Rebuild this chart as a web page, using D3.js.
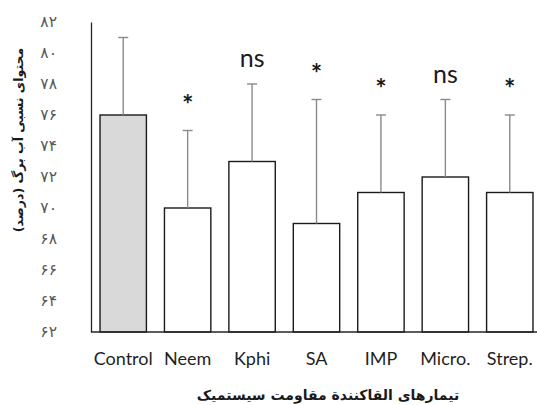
<!DOCTYPE html>
<html>
<head>
<meta charset="utf-8">
<script src="https://cdn.jsdelivr.net/npm/d3@7"></script>
<style>
  body { margin: 0; background: #fff; }
  svg { display: block; }
</style>
</head>
<body>
<div id="chart"></div>
<script>
// treatments and relative water content (%)
const treatments = ['Control', 'Neem', 'Kphi', 'SA', 'IMP', 'Micro.', 'Strep.'];
const rwcValues = [76, 70, 73, 69, 71, 72, 71];
const rwcErrors = [5, 5, 5, 8, 5, 5, 5];
const sigLabels = ['', '*', 'ns', '*', '*', 'ns', '*'];
const yTicks = [62, 64, 66, 68, 70, 72, 74, 76, 78, 80, 82];

const xTitle = 'تیمارهای القاکنندة مقاومت سیستمیک';
const yTitle = 'محتوای نسبی آب برگ (درصد)';

const width = 537;
const height = 405;
const margin = { top: 22, right: 0, bottom: 73, left: 91 };

const faDigits = '۰۱۲۳۴۵۶۷۸۹';
const toFa = n => String(n).replace(/[0-9]/g, d => faDigits[+d]);

const latinFont = 'Lato, "Open Sans", sans-serif';
const faFont = '"DejaVu Sans", sans-serif';

const data = treatments.map((t, i) => ({
  name: t, value: rwcValues[i], err: rwcErrors[i], sig: sigLabels[i]
}));

const svg = d3.select('#chart').append('svg')
  .attr('width', width)
  .attr('height', height);

svg.append('rect').attr('width', width).attr('height', height).attr('fill', '#fff');

const x = d3.scaleBand()
  .domain(treatments)
  .range([margin.left, 542])
  .paddingInner(0.28)
  .paddingOuter(0.14);

const y = d3.scaleLinear()
  .domain([62, 82])
  .range([height - margin.bottom, margin.top]);

// y axis: line + persian tick labels, no tick marks
const yAxis = svg.append('g')
  .attr('transform', `translate(${margin.left},0)`)
  .call(d3.axisLeft(y).tickValues(yTicks).tickSize(0).tickPadding(34).tickFormat(toFa));
yAxis.select('.domain').attr('stroke', '#262626').attr('stroke-width', 1.3);
yAxis.selectAll('text')
  .attr('font-family', faFont)
  .attr('font-size', 15.5)
  .attr('fill', '#595959');

// bars
svg.append('g').selectAll('rect')
  .data(data)
  .join('rect')
    .attr('x', d => x(d.name))
    .attr('y', d => y(d.value))
    .attr('width', x.bandwidth())
    .attr('height', d => y(62) - y(d.value))
    .attr('fill', (d, i) => i === 0 ? '#d9d9d9' : '#fff')
    .attr('stroke', '#1a1a1a')
    .attr('stroke-width', 1.4);

// upper error bars
const eb = svg.append('g').selectAll('g')
  .data(data)
  .join('g')
    .attr('transform', d => `translate(${x(d.name) + x.bandwidth() / 2},0)`);
eb.append('line')
  .attr('y1', d => y(d.value))
  .attr('y2', d => y(d.value + d.err))
  .attr('stroke', '#8a8a8a')
  .attr('stroke-width', 1.4);
eb.append('line')
  .attr('x1', -5).attr('x2', 5)
  .attr('y1', d => y(d.value + d.err))
  .attr('y2', d => y(d.value + d.err))
  .attr('stroke', '#8a8a8a')
  .attr('stroke-width', 1.4);

// significance labels
eb.append('text')
  .attr('y', d => y(d.value + d.err) - 17)
  .attr('text-anchor', 'middle')
  .attr('font-family', latinFont)
  .attr('font-size', d => d.sig === '*' ? 27 : 25)
  .attr('font-weight', d => d.sig === '*' ? 'bold' : 'normal')
  .attr('fill', '#1a1a1a')
  .text(d => d.sig);

// x axis line (drawn last so it sits over bar bottoms)
svg.append('line')
  .attr('x1', margin.left).attr('x2', width)
  .attr('y1', y(62)).attr('y2', y(62))
  .attr('stroke', '#262626')
  .attr('stroke-width', 1.3);

svg.append('g').selectAll('text')
  .data(treatments)
  .join('text')
    .attr('x', d => x(d) + x.bandwidth() / 2)
    .attr('y', 365)
    .attr('text-anchor', 'middle')
    .attr('font-family', latinFont)
    .attr('font-size', 18)
    .attr('fill', '#1f1f1f')
    .text(d => d);

// axis titles
svg.append('text')
  .attr('x', 328)
  .attr('y', 400)
  .attr('text-anchor', 'middle')
  .attr('font-family', faFont)
  .attr('font-weight', 'bold')
  .attr('font-size', 14)
  .attr('fill', '#1a1a1a')
  .attr('direction', 'rtl')
  .text(xTitle);

svg.append('text')
  .attr('transform', 'translate(23,140) rotate(-90)')
  .attr('text-anchor', 'middle')
  .attr('font-family', faFont)
  .attr('font-weight', 'bold')
  .attr('font-size', 12.5)
  .attr('fill', '#1a1a1a')
  .attr('direction', 'rtl')
  .text(yTitle);
</script>
</body>
</html>
